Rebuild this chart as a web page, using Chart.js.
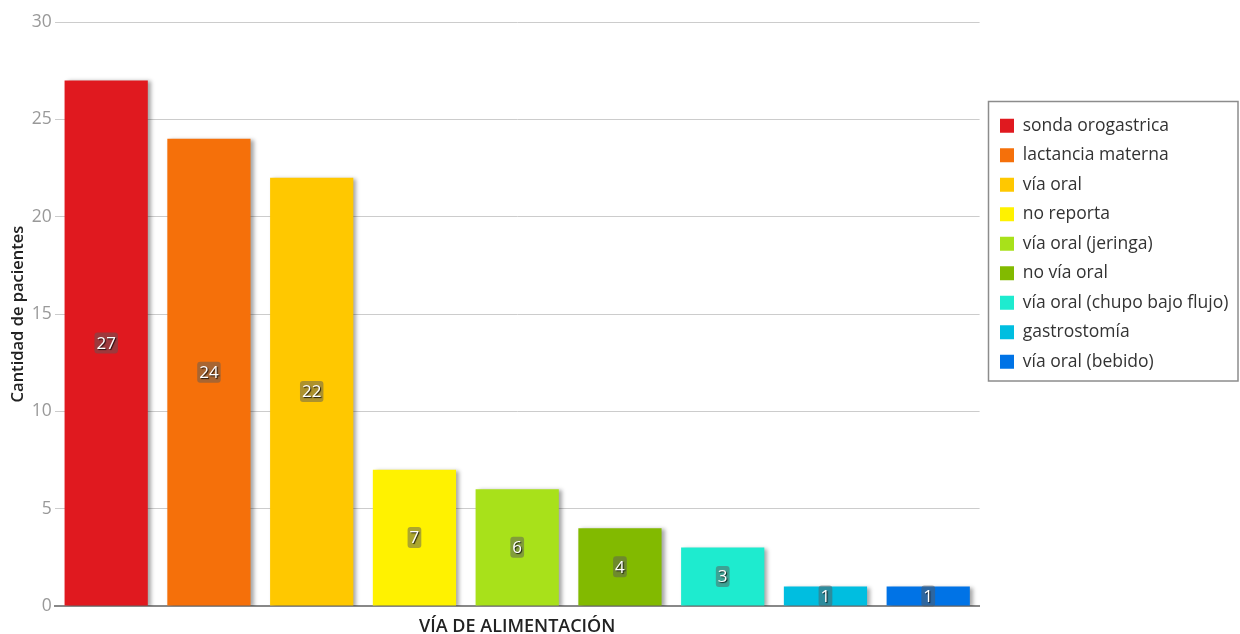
<!DOCTYPE html>
<html>
<head>
<meta charset="utf-8">
<script src="https://cdn.jsdelivr.net/npm/chart.js@4.4.1/dist/chart.umd.min.js"></script>
<style>
  html, body { margin: 0; padding: 0; background: #fff; }
  #wrap { width: 1240px; height: 634px; position: relative; }
</style>
</head>
<body>
<div id="wrap"><canvas id="c" width="1240" height="634"></canvas></div>
<script>
const categories = [
  'sonda orogastrica', 'lactancia materna', 'vía oral', 'no reporta',
  'vía oral (jeringa)', 'no vía oral', 'vía oral (chupo bajo flujo)',
  'gastrostomía', 'vía oral (bebido)'
];
const patientCounts = [27, 24, 22, 7, 6, 4, 3, 1, 1];
const barColors = ['#E0191F', '#F5700A', '#FFC800', '#FFF200', '#A8E11A', '#82BA00', '#1EEBCF', '#00BEE0', '#0073E6'];
const yTicks = [0, 5, 10, 15, 20, 25, 30];
const xTitle = 'VÍA DE ALIMENTACIÓN';
const yTitle = 'Cantidad de pacientes';

const FONT = "'Open Sans', 'Noto Sans', sans-serif";

const barShadow = {
  id: 'barShadow',
  beforeDatasetDraw(chart) {
    const ctx = chart.ctx;
    ctx.save();
    ctx.shadowColor = 'rgba(0,0,0,0.35)';
    ctx.shadowBlur = 4;
    ctx.shadowOffsetX = 3;
    ctx.shadowOffsetY = 1;
  },
  afterDatasetDraw(chart) {
    chart.ctx.restore();
  }
};

const valueLabels = {
  id: 'valueLabels',
  afterDatasetsDraw(chart) {
    const ctx = chart.ctx;
    const meta = chart.getDatasetMeta(0);
    ctx.save();
    ctx.font = '17px ' + FONT;
    ctx.textAlign = 'center';
    ctx.textBaseline = 'middle';
    meta.data.forEach((bar, i) => {
      const v = chart.data.datasets[0].data[i];
      const txt = String(v);
      const cx = bar.x;
      const cy = (bar.y + bar.base) / 2;
      const w = ctx.measureText(txt).width + 4;
      const h = 21;
      ctx.fillStyle = 'rgba(90,90,90,0.5)';
      ctx.beginPath();
      if (ctx.roundRect) ctx.roundRect(cx - w / 2, cy - h / 2, w, h, 3);
      else ctx.rect(cx - w / 2, cy - h / 2, w, h);
      ctx.fill();
      ctx.shadowColor = 'rgba(0,0,0,0.8)';
      ctx.shadowBlur = 1;
      ctx.shadowOffsetX = 1;
      ctx.shadowOffsetY = 1;
      ctx.fillStyle = '#ffffff';
      ctx.fillText(txt, cx, cy + 1);
      ctx.shadowColor = 'transparent';
    });
    ctx.restore();
  }
};

const legendBox = {
  id: 'legendBox',
  afterLayout(chart) {
    const lg = chart.legend;
    const h = lg.height;
    const w = lg.width;
    lg.left = 988;
    lg.right = lg.left + w;
    lg.top = 105;
    lg.bottom = lg.top + h;
  },
  afterDraw(chart) {
    const ctx = chart.ctx;
    ctx.save();
    ctx.strokeStyle = '#8c8c8c';
    ctx.lineWidth = 1.5;
    const x1 = 988.5, y1 = 101.5, x2 = 1238, y2 = 381;
    ctx.strokeRect(x1, y1, x2 - x1, y2 - y1);
    ctx.restore();
  }
};

new Chart(document.getElementById('c'), {
  type: 'bar',
  data: {
    labels: categories,
    datasets: [{
      label: yTitle,
      data: patientCounts,
      backgroundColor: barColors,
      borderWidth: 0,
      barPercentage: 0.81,
      categoryPercentage: 1.0
    }]
  },
  plugins: [barShadow, valueLabels, legendBox],
  options: {
    responsive: false,
    animation: false,
    devicePixelRatio: 1,
    layout: { padding: { top: 22, left: 8, right: 10, bottom: -2 } },
    plugins: {
      tooltip: { enabled: false },
      legend: {
        display: true,
        position: 'right',
        align: 'start',
        onClick: null,
        labels: {
          boxWidth: 14,
          boxHeight: 14,
          padding: 12,
          color: '#333333',
          font: { family: FONT, size: 17.5 },
          generateLabels: () => categories.map((c, i) => ({
            text: c,
            fillStyle: barColors[i],
            strokeStyle: barColors[i],
            lineWidth: 0,
            hidden: false,
            index: i,
            fontColor: '#333333'
          }))
        }
      }
    },
    scales: {
      x: {
        grid: { display: false, drawTicks: false },
        border: { display: true, color: '#888888', width: 2 },
        ticks: { display: false },
        title: {
          display: true,
          text: xTitle,
          color: '#222222',
          font: { family: FONT, size: 18, weight: '600', lineHeight: 1.0 },
          padding: { top: 12, bottom: 0 }
        }
      },
      y: {
        min: 0,
        max: 30,
        afterBuildTicks: axis => { axis.ticks = yTicks.map(v => ({ value: v })); },
        grid: { color: '#cccccc', lineWidth: 1, drawTicks: false },
        border: { display: false },
        ticks: {
          color: '#999999',
          padding: 3,
          font: { family: FONT, size: 17.5 }
        },
        title: {
          display: true,
          text: yTitle,
          color: '#222222',
          font: { family: FONT, size: 16.5, weight: '600' },
          padding: { top: 0, bottom: 1 }
        }
      }
    }
  }
});
</script>
</body>
</html>
